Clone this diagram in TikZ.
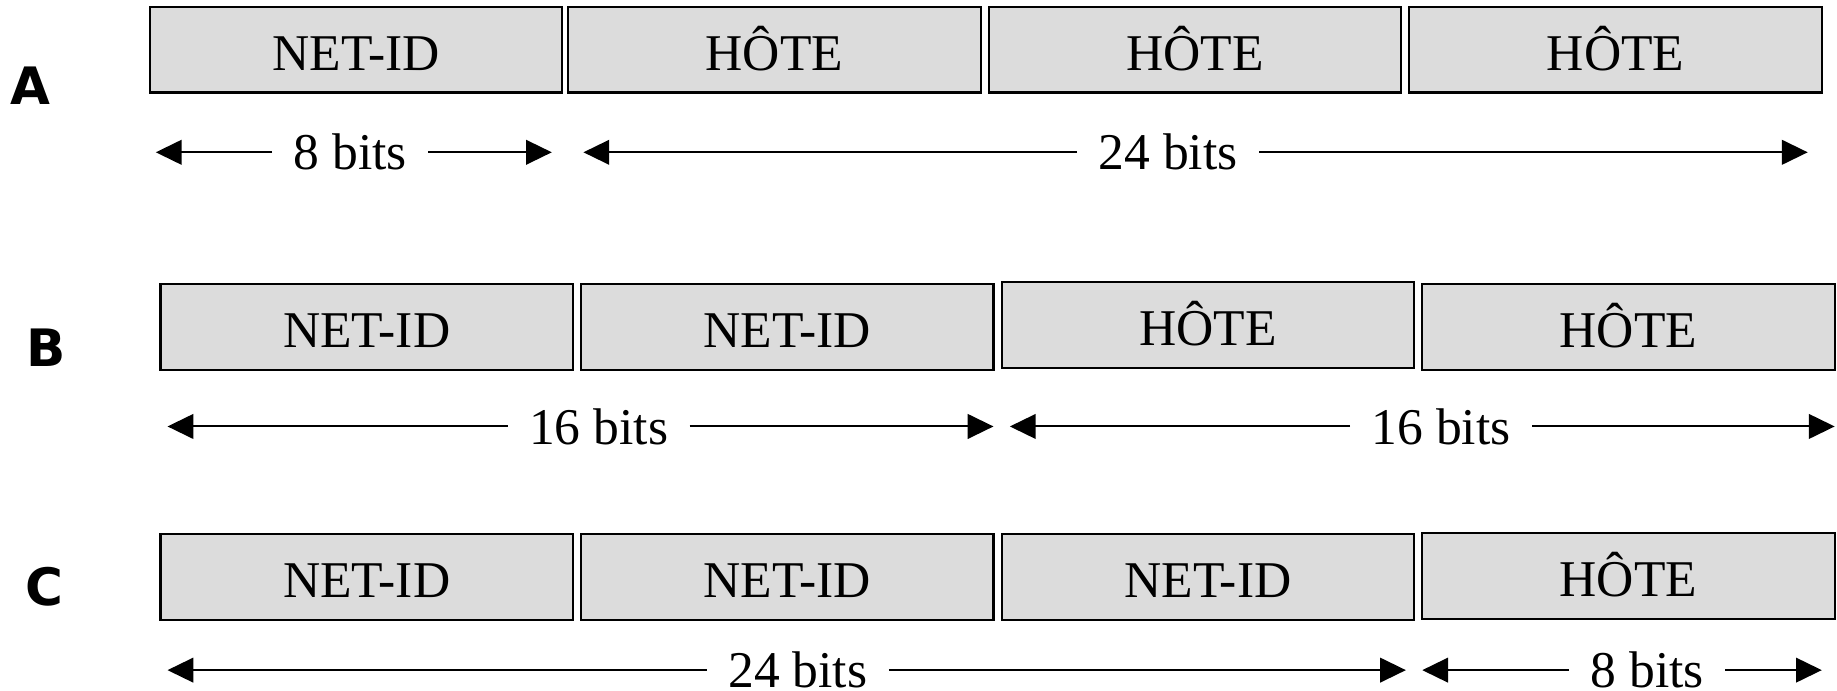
\documentclass[tikz,border=0pt]{standalone}
\usepackage{fontspec}
\setmainfont{Liberation Serif}
\newfontfamily\labfont{DejaVu Sans}
\usetikzlibrary{arrows.meta}
\definecolor{boxfill}{RGB}{220,220,220}
\begin{document}
\begin{tikzpicture}[x=0.5pt,y=-0.5pt,
  field/.style={draw=black, line width=0.9pt, fill=boxfill,
    minimum width=176pt, minimum height=36.5pt, inner sep=0pt,
    font=\fontsize{22}{26}\selectfont, text height=17.4pt, text depth=0pt},
  bits/.style={inner xsep=9pt, inner ysep=0pt,
    font=\fontsize{22}{26}\selectfont},
  rowlab/.style={font=\labfont\bfseries\fontsize{22}{26}\selectfont, inner sep=0pt},
  dim/.style={line width=0.85pt, -{Triangle[length=11pt,width=10.5pt]}}]
\useasboundingbox (0,0) rectangle (1568,589);

% Row A
\node[rowlab] (la) at (26,73) {A};
\node[field] (a1) at (304,42.5) {NET-ID};
\node[field] (a2) at (661,42.5) {HÔTE};
\node[field] (a3) at (1020,42.5) {HÔTE};
\node[field] (a4) at (1379,42.5) {HÔTE};
\node[bits] (ta1) at (299,130) {8 bits};
\coordinate (ta1l) at (133,130); \coordinate (ta1r) at (471,130);
\node[bits] (ta2) at (997,130) {24 bits};
\coordinate (ta2l) at (498,130); \coordinate (ta2r) at (1543,130);
\draw[dim] (ta1) -- (ta1l); \draw[dim] (ta1) -- (ta1r);
\draw[dim] (ta2) -- (ta2l); \draw[dim] (ta2) -- (ta2r);

% Row B
\node[rowlab] (lb) at (39,297) {B};
\node[field] (b1) at (313,279) {NET-ID};
\node[field] (b2) at (672,279) {NET-ID};
\node[field] (b3) at (1031,277.5) {HÔTE};
\node[field] (b4) at (1390,279) {HÔTE};
\node[bits] (tb1) at (511,364) {16 bits};
\coordinate (tb1l) at (143,364); \coordinate (tb1r) at (848,364);
\node[bits] (tb2) at (1230,364) {16 bits};
\coordinate (tb2l) at (862,364); \coordinate (tb2r) at (1566,364);
\draw[dim] (tb1) -- (tb1l); \draw[dim] (tb1) -- (tb1r);
\draw[dim] (tb2) -- (tb2l); \draw[dim] (tb2) -- (tb2r);

% Row C
\node[rowlab] (lc) at (38,501) {C};
\node[field] (c1) at (313,492.5) {NET-ID};
\node[field] (c2) at (672,492.5) {NET-ID};
\node[field] (c3) at (1031,492.5) {NET-ID};
\node[field] (c4) at (1390,491.5) {HÔTE};
\node[bits] (tc1) at (681,572) {24 bits};
\coordinate (tc1l) at (143,572); \coordinate (tc1r) at (1200,572);
\node[bits] (tc2) at (1406,572) {8 bits};
\coordinate (tc2l) at (1214,572); \coordinate (tc2r) at (1555,572);
\draw[dim] (tc1) -- (tc1l); \draw[dim] (tc1) -- (tc1r);
\draw[dim] (tc2) -- (tc2l); \draw[dim] (tc2) -- (tc2r);
\end{tikzpicture}
\end{document}
